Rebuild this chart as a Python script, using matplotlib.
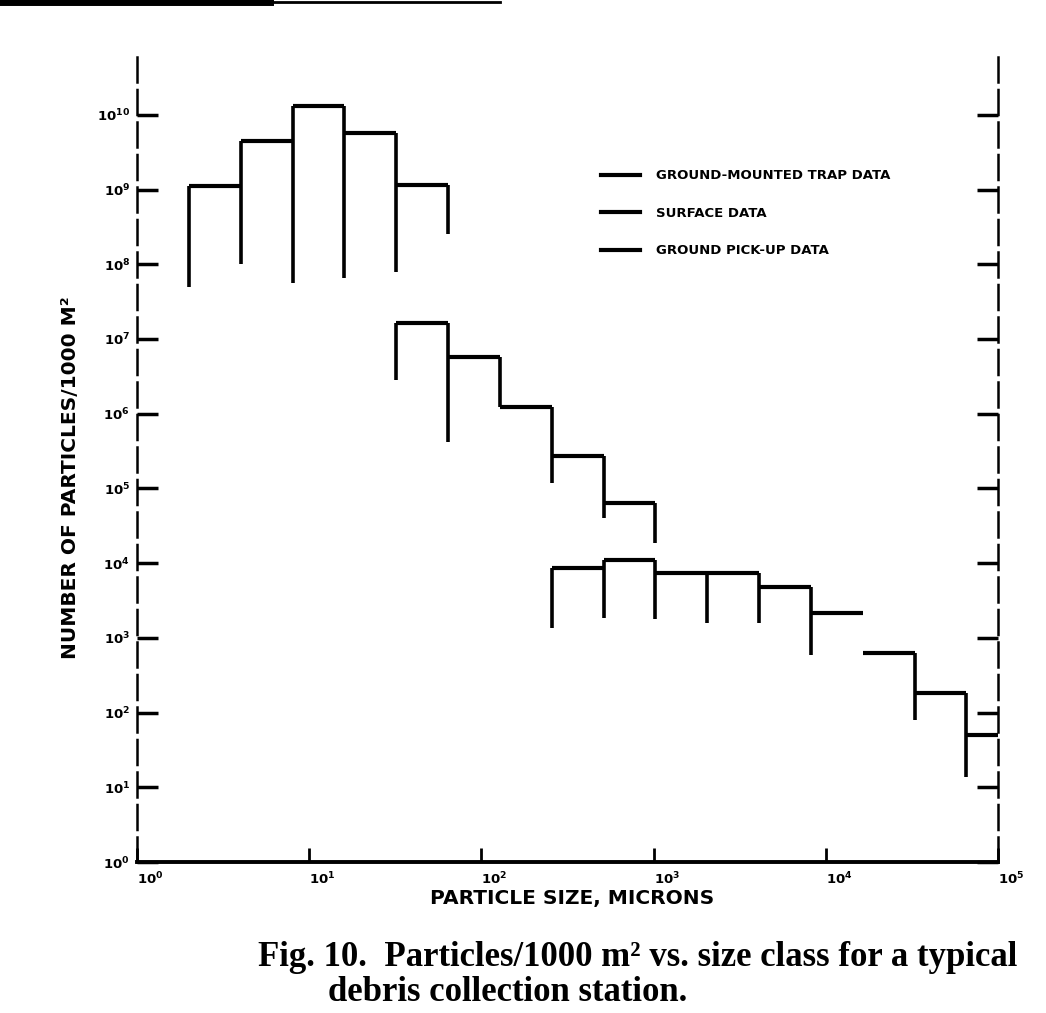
import numpy as np
import matplotlib.pyplot as plt
from matplotlib.lines import Line2D

# size class edges (microns), counts per 1000 m^2 and lower ends of the drop lines
fine_edges = [2, 4, 8, 16, 32, 64]
fine_counts = [1.1e9, 4.5e9, 1.3e10, 5.7e9, 1.15e9]
fine_lows = [5.0e7, 1.0e8, 5.6e7, 6.6e7, 7.9e7, 2.5e8]

mid_edges = [32, 64, 128, 256, 512, 1024]
mid_counts = [1.64e7, 5.75e6, 1.24e6, 2.72e5, 6.4e4]
mid_lows = [2.8e6, 4.2e5, 1.24e6, 1.18e5, 4.0e4, 1.86e4]

coarse_edges = [256, 512, 1024, 2048, 4096, 8192, 16384, 32768, 65536, 131072]
coarse_counts = [8.6e3, 1.1e4, 7.4e3, 7.4e3, 4.8e3, 2.15e3, 630, 183, 50]
coarse_lows = [1.36e3, 1.85e3, 1.8e3, 1.6e3, 1.6e3, 590, 2150, 80, 13.7, 50]

series_labels = ["GROUND-MOUNTED TRAP DATA", "SURFACE DATA", "GROUND PICK-UP DATA"]

x_exponents = [0, 1, 2, 3, 4, 5]
y_exponents = [0, 1, 2, 3, 4, 5, 6, 7, 8, 9, 10]

caption1 = "Fig. 10.  Particles/1000 m² vs. size class for a typical"
caption2 = "debris collection station."

fig = plt.figure(figsize=(10.46, 10.13), dpi=100)
ax = fig.add_axes([137/1046, 1 - 862/1013, (998 - 137)/1046, (862 - 55)/1013])
ax.set_xscale("log")
ax.set_yscale("log")
ax.set_xlim(1, 1e5)
ax.set_ylim(1, 10**10.8)


def draw_hist(edges, counts, lows):
    edges = np.array(edges, dtype=float)
    counts = np.array(counts, dtype=float)
    ax.hlines(counts, edges[:-1], edges[1:], colors="black", lw=3)
    left = np.concatenate([[counts[0]], counts])
    right = np.concatenate([counts, [counts[-1]]])
    tops = np.maximum(left, right)
    ax.vlines(edges, tops, lows, colors="black", lw=2.6)


draw_hist(fine_edges, fine_counts, fine_lows)
draw_hist(mid_edges, mid_counts, mid_lows)
draw_hist(coarse_edges, coarse_counts, coarse_lows)

# spines like the scanned original
ax.spines["top"].set_visible(False)
ax.spines["left"].set_linestyle((0, (10, 3)))
ax.spines["right"].set_linestyle((0, (10, 3)))
ax.spines["left"].set_linewidth(1.8)
ax.spines["right"].set_linewidth(1.8)
ax.spines["bottom"].set_linewidth(2.8)

ax.set_xticks([10.0**e for e in x_exponents])
ax.set_xticklabels([r"$\mathbf{10^{%d}}$" % e for e in x_exponents])
ax.set_yticks([10.0**e for e in y_exponents])
ax.set_yticklabels([r"$\mathbf{10^{%d}}$" % e for e in y_exponents])
ax.minorticks_off()
ax.tick_params(axis="y", which="major", direction="in", length=15, width=2.5,
               right=True, labelright=False, labelsize=9.5, pad=5)
ax.tick_params(axis="x", which="major", direction="in", length=10, width=2,
               labelsize=9.5, pad=6)
plt.setp(ax.get_xticklabels(), ha="left")

ax.set_xlabel("PARTICLE SIZE, MICRONS", fontsize=14.5, fontweight="bold")
ax.xaxis.set_label_coords(0.505, -0.034)
ax.set_ylabel("NUMBER OF PARTICLES/1000 M²", fontsize=14.5, fontweight="bold")
ax.yaxis.set_label_coords(-0.066, 0.476)

handles = [Line2D([], [], color="black", lw=3) for _ in series_labels]
ax.legend(handles, series_labels, loc="upper left", bbox_to_anchor=(0.525, 0.873),
          frameon=False, handlelength=3, handletextpad=1.2, labelspacing=1.85,
          prop={"size": 9.5, "weight": "bold"})

fig.text(258/1046, 1 - 966/1013, caption1, family="Liberation Serif",
         fontweight="bold", fontsize=25, ha="left", va="baseline")
fig.text(328/1046, 1 - 1001/1013, caption2, family="Liberation Serif",
         fontweight="bold", fontsize=25, ha="left", va="baseline")

# dark scan edge at the top
fig.add_artist(Line2D([0, 270/1046], [1 - 2/1013, 1 - 2/1013], color="black", lw=5))
fig.add_artist(Line2D([270/1046, 500/1046], [1 - 2/1013, 1 - 2/1013], color="black", lw=2))

fig.savefig("out.png", dpi=100)
